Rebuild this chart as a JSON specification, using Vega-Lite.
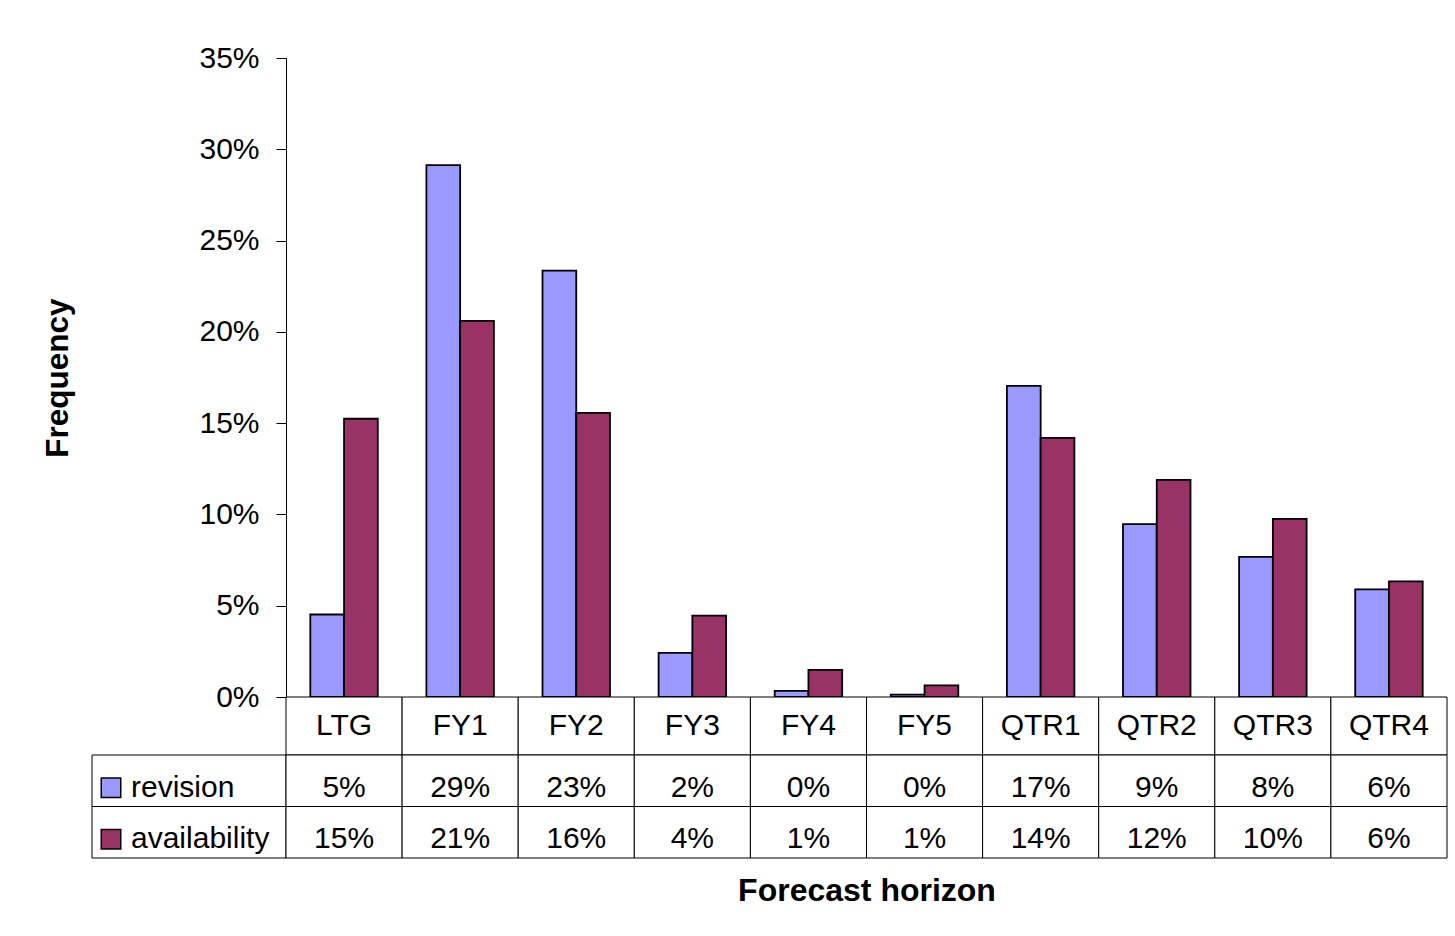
{
  "$schema": "https://vega.github.io/schema/vega-lite/v6.json",
  "background": "white",
  "padding": {"left": 42, "top": 43, "right": 5, "bottom": 5},
  "columns": 2,
  "spacing": 0,
  "bounds": "flush",
  "datasets": {
    "d": [
      {"horizon": "LTG", "series": "revision", "value": 0.0452},
      {"horizon": "LTG", "series": "availability", "value": 0.1524},
      {"horizon": "FY1", "series": "revision", "value": 0.2913},
      {"horizon": "FY1", "series": "availability", "value": 0.2060},
      {"horizon": "FY2", "series": "revision", "value": 0.2335},
      {"horizon": "FY2", "series": "availability", "value": 0.1556},
      {"horizon": "FY3", "series": "revision", "value": 0.0242},
      {"horizon": "FY3", "series": "availability", "value": 0.0446},
      {"horizon": "FY4", "series": "revision", "value": 0.0034},
      {"horizon": "FY4", "series": "availability", "value": 0.0149},
      {"horizon": "FY5", "series": "revision", "value": 0.0013},
      {"horizon": "FY5", "series": "availability", "value": 0.0064},
      {"horizon": "QTR1", "series": "revision", "value": 0.1704},
      {"horizon": "QTR1", "series": "availability", "value": 0.1419},
      {"horizon": "QTR2", "series": "revision", "value": 0.0947},
      {"horizon": "QTR2", "series": "availability", "value": 0.1189},
      {"horizon": "QTR3", "series": "revision", "value": 0.0768},
      {"horizon": "QTR3", "series": "availability", "value": 0.0976},
      {"horizon": "QTR4", "series": "revision", "value": 0.0589},
      {"horizon": "QTR4", "series": "availability", "value": 0.0633}
    ]
  },
  "concat": [
    {
      "width": 194,
      "height": 639,
      "data": {"values": [{}]},
      "mark": {"type": "text"},
      "encoding": {"text": {"value": ""}}
    },
    {
      "width": 1161,
      "height": 639,
      "data": {"name": "d"},
      "mark": {"type": "bar", "stroke": "black", "strokeWidth": 1.8},
      "encoding": {
        "x": {
          "field": "horizon", "type": "nominal", "sort": null,
          "scale": {"paddingInner": 0, "paddingOuter": 0},
          "axis": null
        },
        "xOffset": {
          "field": "series", "type": "nominal",
          "sort": ["revision", "availability"],
          "scale": {"paddingInner": 0, "paddingOuter": 0.72}
        },
        "y": {
          "field": "value", "type": "quantitative",
          "scale": {"domain": [0, 0.35], "nice": false},
          "axis": {
            "values": [0, 0.05, 0.1, 0.15, 0.2, 0.25, 0.3, 0.35],
            "format": ".0%",
            "grid": false,
            "tickSize": 10,
            "labelPadding": 17,
            "labelFontSize": 30,
            "title": "Frequency",
            "titleFontSize": 31.5,
            "titleFontWeight": "bold",
            "titlePadding": 124
          }
        },
        "color": {
          "field": "series", "type": "nominal",
          "scale": {"domain": ["revision", "availability"], "range": ["#9999FF", "#993366"]},
          "legend": null
        }
      }
    },
    {
      "width": 194,
      "height": 58,
      "data": {"values": [{}]},
      "mark": {"type": "text"},
      "encoding": {"text": {"value": ""}}
    },
    {
      "width": 1161,
      "height": 58,
      "data": {"name": "d"},
      "transform": [{"filter": "datum.series === 'revision'"}],
      "encoding": {
        "x": {
          "field": "horizon", "type": "nominal", "sort": null,
          "scale": {"paddingInner": 0, "paddingOuter": 0},
          "axis": null
        }
      },
      "layer": [
        {"mark": {"type": "rect", "fill": "white", "stroke": "black", "strokeWidth": 1}},
        {
          "mark": {"type": "text", "fontSize": 30, "baseline": "middle", "color": "black"},
          "encoding": {"text": {"field": "horizon"}}
        }
      ]
    },
    {
      "width": 194,
      "height": 103,
      "data": {"name": "d"},
      "transform": [{"filter": "datum.horizon === 'LTG'"}],
      "encoding": {
        "y": {
          "field": "series", "type": "nominal",
          "sort": ["revision", "availability"],
          "scale": {"paddingInner": 0, "paddingOuter": 0},
          "axis": null
        }
      },
      "layer": [
        {"mark": {"type": "rect", "fill": "white", "stroke": "black", "strokeWidth": 1}},
        {
          "mark": {"type": "point", "shape": "square", "filled": true, "size": 380, "stroke": "black", "strokeWidth": 1.5, "opacity": 1, "yOffset": 7},
          "encoding": {
            "x": {"value": 19},
            "color": {"field": "series", "type": "nominal", "legend": null}
          }
        },
        {
          "mark": {"type": "text", "fontSize": 30, "align": "left", "baseline": "middle", "dy": 7, "color": "black"},
          "encoding": {
            "x": {"value": 39},
            "text": {"field": "series"}
          }
        }
      ]
    },
    {
      "width": 1161,
      "height": 103,
      "data": {"name": "d"},
      "encoding": {
        "x": {
          "field": "horizon", "type": "nominal", "sort": null,
          "scale": {"paddingInner": 0, "paddingOuter": 0},
          "axis": {
            "orient": "bottom",
            "labels": false,
            "ticks": false,
            "domain": false,
            "title": "Forecast horizon",
            "titleFontSize": 32,
            "titleFontWeight": "bold",
            "titlePadding": 17
          }
        },
        "y": {
          "field": "series", "type": "nominal",
          "sort": ["revision", "availability"],
          "scale": {"paddingInner": 0, "paddingOuter": 0},
          "axis": null
        }
      },
      "layer": [
        {"mark": {"type": "rect", "fill": "white", "stroke": "black", "strokeWidth": 1}},
        {
          "mark": {"type": "text", "fontSize": 30, "baseline": "middle", "dy": 7, "color": "black"},
          "encoding": {"text": {"field": "value", "format": ".0%"}}
        }
      ]
    }
  ],
  "config": {
    "view": {"stroke": null},
    "font": "Liberation Sans",
    "axis": {
      "labelFont": "Liberation Sans",
      "titleFont": "Liberation Sans",
      "labelColor": "black",
      "titleColor": "black",
      "domainColor": "black",
      "tickColor": "black",
      "domainWidth": 1,
      "tickWidth": 1
    },
    "text": {"font": "Liberation Sans"}
  }
}
